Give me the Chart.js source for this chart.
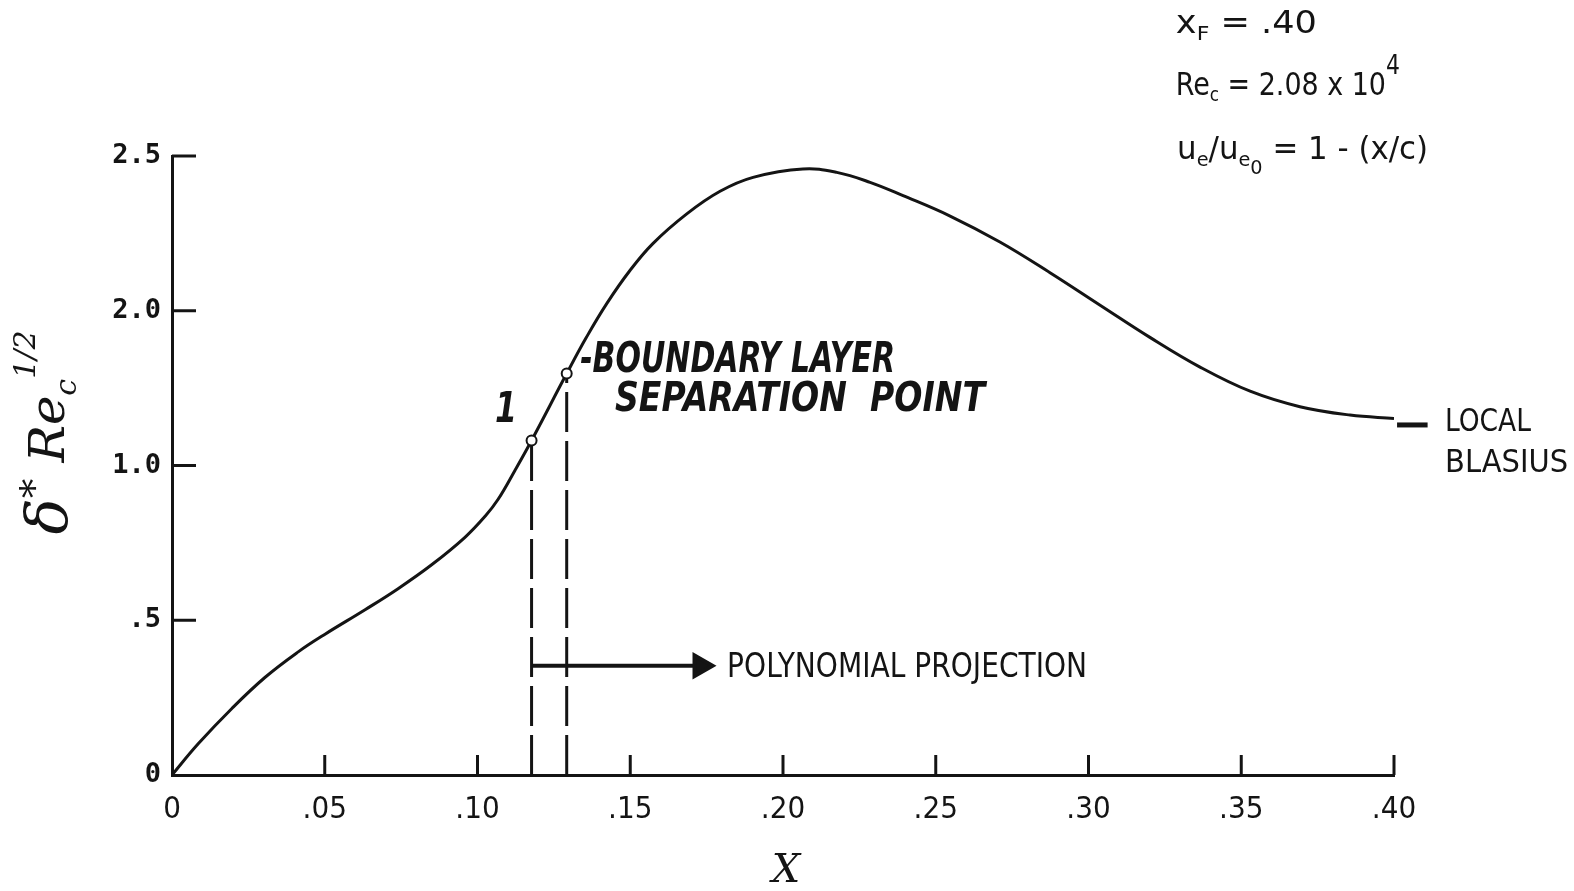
<!DOCTYPE html>
<html>
<head>
<meta charset="utf-8">
<title>Boundary layer displacement thickness</title>
<script src="https://cdn.jsdelivr.net/npm/chart.js@4.4.1/dist/chart.umd.min.js"></script>
<style>
  html, body { margin: 0; padding: 0; background: #fff; }
  #wrap { width: 1574px; height: 891px; position: relative; }
</style>
</head>
<body>
<div id="wrap"><canvas id="chart"></canvas></div>
<script>
// x/c stations and delta* Re_c^(1/2)
const xValues = [0, 0.0085, 0.0196, 0.0304, 0.0412, 0.0501, 0.0632, 0.0740, 0.0851, 0.0959,
  0.1025, 0.1067, 0.1123, 0.1177, 0.1292, 0.1357, 0.1423, 0.1499, 0.1574, 0.1685,
  0.1794, 0.1902, 0.2065, 0.2176, 0.2285, 0.2393, 0.2547, 0.2710, 0.2874, 0.3038,
  0.3201, 0.3365, 0.3529, 0.3692, 0.3856, 0.4000];
const curveValues = [0, 0.100, 0.215, 0.315, 0.397, 0.455, 0.534, 0.602, 0.680, 0.768,
  0.836, 0.890, 0.985, 1.081, 1.297, 1.415, 1.523, 1.630, 1.717, 1.813,
  1.886, 1.931, 1.958, 1.947, 1.915, 1.872, 1.806, 1.722, 1.623, 1.518,
  1.414, 1.318, 1.240, 1.190, 1.163, 1.152];

// the two marked points: point "1" and the separation point
const markedX = [0.1177, 0.1292];
const markedY = [1.081, 1.297];

// polynomial projection arrow and local Blasius level
const projectionX = [0.118, 0.173];
const projectionY = 0.353;
const blasiusX = [0.401, 0.411];
const blasiusY = 1.131;

const xTickLabels = ['0', '.05', '.10', '.15', '.20', '.25', '.30', '.35', '.40'];
const yTickLabels = ['0', '.5', '1.0', '2.0', '2.5'];

const ink = '#141414';
const narrow = "'Liberation Sans Narrow', 'DejaVu Sans Condensed', 'Roboto Condensed', 'Liberation Sans', sans-serif";
const hand = "'DejaVu Sans', sans-serif";

const curve = xValues.map((x, i) => ({ x: x, y: curveValues[i] }));
const marked = markedX.map((x, i) => ({ x: x, y: markedY[i] }));

function vline(i, dash) {
  return {
    data: [{ x: markedX[i], y: 0 }, { x: markedX[i], y: markedY[i] }],
    showLine: true, borderColor: ink, borderWidth: 3, borderDash: dash,
    pointRadius: 0, order: 3
  };
}

// draw text made of normal / sub / superscript parts, squeezed to a width
function drawRich(ctx, parts, x, y, size, family, style, width, align) {
  ctx.save();
  let total = 0;
  parts.forEach(p => {
    ctx.font = style + ' ' + Math.round(size * p[1]) + 'px ' + family;
    total += ctx.measureText(p[0]).width;
  });
  const sx = width ? width / total : 1;
  ctx.translate(x - (align === 'center' ? width / 2 || total / 2 : 0), y);
  ctx.scale(sx, 1);
  ctx.textBaseline = 'middle';
  ctx.textAlign = 'left';
  let cx = 0;
  parts.forEach(p => {
    ctx.font = style + ' ' + Math.round(size * p[1]) + 'px ' + family;
    ctx.fillText(p[0], cx, p[2] * size);
    cx += ctx.measureText(p[0]).width;
  });
  ctx.restore();
}

const paperMarks = {
  id: 'paperMarks',
  afterDraw(chart) {
    const { ctx, scales: { x, y } } = chart;
    const at = (xv, yv) => [x.getPixelForValue(xv), y.getPixelForValue(yv)];
    ctx.save();
    ctx.strokeStyle = ink;
    ctx.fillStyle = ink;
    ctx.lineWidth = 3;

    // inward tick marks
    x.ticks.forEach(t => {
      if (t.value === 0) return;
      const px = x.getPixelForValue(t.value);
      ctx.beginPath(); ctx.moveTo(px, y.bottom); ctx.lineTo(px, y.bottom - 20); ctx.stroke();
    });
    y.ticks.forEach(t => {
      if (t.value === 0) return;
      const py = y.getPixelForValue(t.value);
      ctx.beginPath(); ctx.moveTo(x.left, py); ctx.lineTo(x.left + 24, py); ctx.stroke();
    });

    // conditions, top right
    let p = at(0.3286, 2.424);
    drawRich(ctx, [['x', 1, 0], ['F', 0.62, 0.3], [' = .40', 1, 0]], p[0], p[1], 32, narrow, '', 141);
    p = at(0.3286, 2.224);
    drawRich(ctx, [['Re', 1, 0], ['c', 0.62, 0.3], [' = 2.08 x 10', 1, 0], ['4', 0.8, -0.6]], p[0], p[1], 32, narrow, '', 224);
    p = at(0.3290, 2.017);
    drawRich(ctx, [['u', 1, 0], ['e', 0.62, 0.3], ['/u', 1, 0], ['e', 0.62, 0.3], ['0', 0.62, 0.55], [' = 1 - (x/c)', 1, 0]], p[0], p[1], 32, narrow, '', 251);

    // typed notes
    p = at(0.4167, 1.1375);
    drawRich(ctx, [['LOCAL', 1, 0]], p[0], p[1], 32, narrow, '', 86);
    p = at(0.4167, 1.0045);
    drawRich(ctx, [['BLASIUS', 1, 0]], p[0], p[1], 32, narrow, '', 123);
    p = at(0.1817, 0.3454);
    drawRich(ctx, [['POLYNOMIAL PROJECTION', 1, 0]], p[0], p[1], 33, narrow, '', 360);

    // hand lettering
    p = at(0.1093, 1.175);
    drawRich(ctx, [['1', 1, 0]], p[0], p[1], 42, hand, 'italic bold', 22, 'center');
    p = at(0.1336, 1.3364);
    drawRich(ctx, [['-BOUNDARY LAYER', 1, 0]], p[0], p[1], 42, hand, 'italic bold', 315);
    p = at(0.1450, 1.2105);
    drawRich(ctx, [['SEPARATION  POINT', 1, 0]], p[0], p[1], 40, hand, 'italic bold', 370);

    // axis titles
    p = at(0.2010, -0.313);
    drawRich(ctx, [['X', 1, 0]], p[0], p[1], 40, "'DejaVu Serif', serif", 'italic', 0, 'center');
    p = at(-0.0393, 1.107);
    ctx.save();
    ctx.translate(p[0], p[1]);
    ctx.rotate(-Math.PI / 2);
    drawRich(ctx, [['\u03b4', 1.2, 0], ['*', 0.8, -0.3], [' Re', 1, 0], ['c', 0.6, 0.35], ['1/2', 0.6, -0.5]],
      0, 0, 48, "'DejaVu Serif', serif", 'italic', 204, 'center');
    ctx.restore();
    ctx.restore();
  }
};

new Chart(document.getElementById('chart'), {
  type: 'scatter',
  data: {
    datasets: [
      { data: curve, showLine: true, borderColor: ink, borderWidth: 3, pointRadius: 0,
        tension: 0.4, order: 2 },
      vline(0, [40, 9]),
      vline(1, [40, 9]),
      { data: [{ x: projectionX[0], y: projectionY }, { x: projectionX[1], y: projectionY }],
        showLine: true, borderColor: ink, borderWidth: 4, backgroundColor: ink,
        pointStyle: 'triangle', pointRotation: 90, pointRadius: [0, 12], order: 1 },
      { data: [{ x: blasiusX[0], y: blasiusY }, { x: blasiusX[1], y: blasiusY }],
        showLine: true, borderColor: ink, borderWidth: 5, pointRadius: 0, clip: false, order: 1 },
      { data: marked, pointRadius: 5, pointBorderWidth: 2, pointBackgroundColor: '#fff',
        pointBorderColor: ink, order: 0 }
    ]
  },
  options: {
    responsive: true,
    maintainAspectRatio: false,
    animation: false,
    layout: { padding: { top: 156, right: 180, left: 0, bottom: 0 } },
    plugins: { legend: { display: false }, tooltip: { enabled: false } },
    scales: {
      x: {
        type: 'linear', min: 0, max: 0.4,
        afterFit: s => { s.height = 116; },
        grid: { display: false, drawTicks: false },
        border: { display: true, color: ink, width: 3 },
        ticks: {
          stepSize: 0.05, padding: 16, color: ink,
          font: { family: narrow, size: 31 },
          callback: (v, i) => xTickLabels[i]
        }
      },
      y: {
        type: 'linear', min: 0, max: 2.0,
        afterFit: s => { s.width = 172; },
        grid: { display: false, drawTicks: false },
        border: { display: true, color: ink, width: 3 },
        ticks: {
          stepSize: 0.5, padding: 11, color: ink,
          font: { family: "'DejaVu Sans Mono', monospace", size: 27, weight: 'bold' },
          callback: (v, i) => yTickLabels[i]
        }
      }
    }
  },
  plugins: [paperMarks]
});
</script>
</body>
</html>
